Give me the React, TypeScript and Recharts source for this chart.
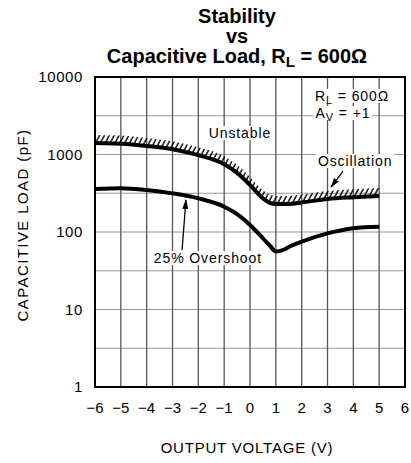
import {
  ComposedChart,
  Line,
  Area,
  XAxis,
  YAxis,
  CartesianGrid,
  ReferenceArea,
  ReferenceDot,
  ReferenceLine,
  Label,
} from 'recharts';

// output voltage (V) sample points
const voltage = [-6, -5, -4, -3, -2, -1, -0.5, 0, 0.5, 0.8, 1, 1.3, 1.5, 2, 3, 4, 5];
// oscillation boundary (pF)
const oscillation = [1410, 1380, 1290, 1170, 980, 750, 580, 405, 272, 236, 230, 229, 230, 240, 267, 281, 292];
// 25% overshoot (pF)
const overshoot = [359, 366, 348, 315, 272, 212, 170, 123, 83, 65, 56, 59, 64, 75, 96, 112, 117];

const xTicks = [-6, -5, -4, -3, -2, -1, 0, 1, 2, 3, 4, 5, 6];
const yTicks = [1, 3.162, 10, 31.62, 100, 316.2, 1000, 3162, 10000];
const yLabels = [1, 10, 100, 1000, 10000];

// hatch band thickness above the oscillation line (multiplicative on log axis)
const HATCH = 1.27;

const data = voltage.map((v, i) => ({
  v,
  osc: oscillation[i],
  over: overshoot[i],
  band: [oscillation[i], oscillation[i] * HATCH],
}));

const SANS = '"Liberation Sans", Arial, sans-serif';

function note(w: number, content: any, h = 14) {
  return (p: any) => (
    <g>
      <rect x={p.cx - w / 2} y={p.cy - h / 2} width={w} height={h} fill="#fff" />
      <text
        x={p.cx}
        y={p.cy}
        textAnchor="middle"
        dominantBaseline="central"
        fontFamily={SANS}
        fontSize={14}
        letterSpacing={0.9}
        fill="#000"
      >
        {content}
      </text>
    </g>
  );
}

const arrow = (p: any) => (
  <line x1={p.x1} y1={p.y1} x2={p.x2} y2={p.y2} stroke="#000" strokeWidth={1.3} markerEnd="url(#arrowHead)" />
);

export default function App() {
  return (
    <div style={{ position: 'absolute', left: 0, top: 0, width: 411, height: 463, background: '#fff' }}>
      <svg width={0} height={0} style={{ position: 'absolute' }}>
        <defs>
          <pattern id="hatch" patternUnits="userSpaceOnUse" width={4.3} height={10} patternTransform="rotate(28)">
            <line x1={1} y1={0} x2={1} y2={10} stroke="#000" strokeWidth={1.4} />
          </pattern>
          <marker
            id="arrowHead"
            markerUnits="userSpaceOnUse"
            markerWidth={10}
            markerHeight={8}
            refX={9}
            refY={4}
            orient="auto"
          >
            <path d="M0,1 L10,4 L0,7 Z" fill="#000" />
          </marker>
        </defs>
      </svg>

      <div
        style={{
          position: 'absolute',
          left: 37,
          top: 6,
          width: 400,
          textAlign: 'center',
          fontFamily: SANS,
          fontWeight: 'bold',
          fontSize: 20,
          lineHeight: '20px',
          color: '#000',
        }}
      >
        <div>Stability</div>
        <div>vs</div>
        <div>
          Capacitive Load, R<span style={{ fontSize: 15, position: 'relative', top: 4 }}>L</span> = 600Ω
        </div>
      </div>

      <ComposedChart width={411} height={463} data={data} margin={{ top: 77, right: 6, bottom: 46, left: 0 }}>
        <CartesianGrid vertical={false} stroke="#999" strokeWidth={1.2} />
        <CartesianGrid horizontal={false} stroke="#555" strokeWidth={1.3} />
        <XAxis
          dataKey="v"
          type="number"
          domain={[-6, 6]}
          ticks={xTicks}
          tickLine={false}
          axisLine={false}
          height={30}
          tickMargin={9}
          tickFormatter={(v: number) => (v < 0 ? '−' + Math.abs(v) : String(v))}
          tick={{ fontFamily: SANS, fontSize: 15, fill: '#000' }}
        >
          <Label
            content={(p: any) => (
              <text
                x={247}
                y={p.viewBox.y + p.viewBox.height + 36}
                textAnchor="middle"
                fontFamily={SANS}
                fontSize={15}
                letterSpacing={0.8}
                fill="#000"
              >
                OUTPUT VOLTAGE (V)
              </text>
            )}
          />
        </XAxis>
        <YAxis
          scale="log"
          domain={[1, 10000]}
          ticks={yTicks}
          allowDataOverflow
          width={95}
          tickLine={false}
          axisLine={false}
          tickSize={0}
          tickMargin={12}
          tickFormatter={(v: number) => (yLabels.includes(v) ? String(v) : '')}
          tick={{ fontFamily: SANS, fontSize: 15, fill: '#000', letterSpacing: 0.6 }}
        >
          <Label
            content={() => (
              <text
                x={28}
                y={225}
                transform="rotate(-90 28 225)"
                textAnchor="middle"
                fontFamily={SANS}
                fontSize={15}
                letterSpacing={1.4}
                fill="#000"
              >
                CAPACITIVE LOAD (pF)
              </text>
            )}
          />
        </YAxis>

        <Area
          dataKey="band"
          type="monotone"
          stroke="none"
          fill="url(#hatch)"
          fillOpacity={1}
          isAnimationActive={false}
        />
        <Line dataKey="osc" type="monotone" stroke="#000" strokeWidth={4} dot={false} isAnimationActive={false} />
        <Line dataKey="over" type="monotone" stroke="#000" strokeWidth={4} dot={false} isAnimationActive={false} />

        <ReferenceArea x1={-6} x2={6} y1={1} y2={10000} fill="none" stroke="#000" strokeWidth={2} ifOverflow="visible" />

        <ReferenceDot x={-0.39} y={1893} shape={note(64, 'Unstable')} />
        <ReferenceDot x={4.07} y={824} shape={note(78, 'Oscillation')} />
        <ReferenceDot x={-1.63} y={46.2} shape={note(110, '25% Overshoot')} />
        <ReferenceDot
          x={3.95}
          y={5690}
          shape={note(
            82,
            <>
              <tspan>R</tspan>
              <tspan dy={4} fontSize={11}>L</tspan>
              <tspan dy={-4}> = 600Ω</tspan>
            </>,
          )}
        />
        <ReferenceDot
          x={3.6}
          y={3430}
          shape={note(
            58,
            <>
              <tspan>A</tspan>
              <tspan dy={4} fontSize={11}>V</tspan>
              <tspan dy={-4}> = +1</tspan>
            </>,
          )}
        />

        <ReferenceLine segment={[{ x: 3.6, y: 612 }, { x: 3.14, y: 380 }]} shape={arrow} ifOverflow="visible" />
        <ReferenceLine segment={[{ x: -2.63, y: 58.6 }, { x: -2.48, y: 259 }]} shape={arrow} ifOverflow="visible" />
      </ComposedChart>
    </div>
  );
}
